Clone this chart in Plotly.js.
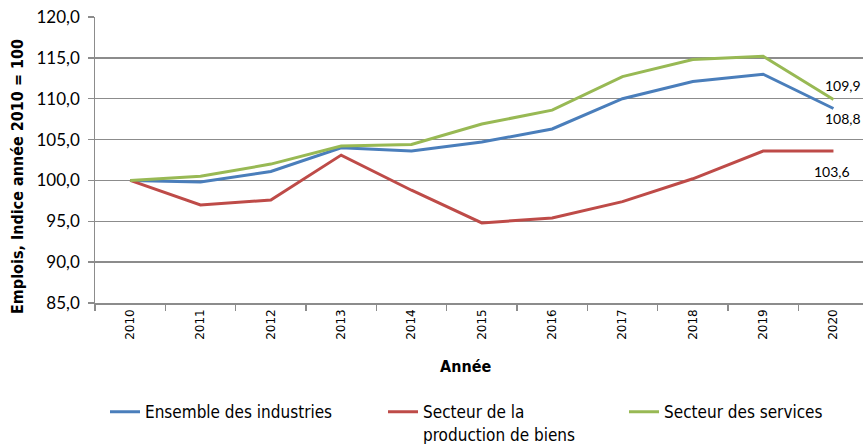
<!DOCTYPE html>
<html>
<head>
<meta charset="utf-8">
<script src="https://cdn.plot.ly/plotly-3.0.1.min.js"></script>
<style>html,body{margin:0;padding:0;background:#fff;}#chart{width:863px;height:444px;}</style>
</head>
<body>
<div id="chart"></div>
<script>
const years = ["2010","2011","2012","2013","2014","2015","2016","2017","2018","2019","2020"];
const ensemble = [100.0, 99.8, 101.1, 104.0, 103.6, 104.7, 106.3, 110.0, 112.1, 113.0, 108.8];
const biens    = [100.0, 97.0, 97.6, 103.1, 98.8, 94.8, 95.4, 97.4, 100.2, 103.6, 103.6];
const services = [100.0, 100.5, 102.0, 104.2, 104.4, 106.9, 108.6, 112.7, 114.8, 115.2, 109.9];
const names = ["Ensemble des industries", "Secteur de la<br>production de biens", "Secteur des services"];
const colors = ["#4A7EBB", "#BE4B48", "#98B954"];

const fmt = v => v.toFixed(1).replace(".", ",");
const last = years.length - 1;

const series = [ensemble, biens, services];
const legends = ["legend", "legend2", "legend3"];
const traces = series.map((s, i) => ({
  x: years, y: s, type: "scatter", mode: "lines", name: names[i],
  line: {color: colors[i], width: 3}, legend: legends[i], hoverinfo: "skip"
}));

const condensed = "Liberation Sans Narrow, DejaVu Sans Condensed, sans-serif";
const legFont = {family: condensed, size: 17, color: "#000"};
const legBase = {orientation: "h", yref: "container", yanchor: "top", xanchor: "left", y: 0.112, font: legFont, bgcolor: "rgba(0,0,0,0)", valign: "top", borderwidth: 0};

const labFont = {family: "Lato, sans-serif", size: 14, color: "#000"};
const annotations = [
  {x: last, y: services[last], text: fmt(services[last]), xanchor: "left", yanchor: "middle", xshift: -10, yshift: 14, showarrow: false, font: labFont},
  {x: last, y: ensemble[last], text: fmt(ensemble[last]), xanchor: "left", yanchor: "middle", xshift: -10, yshift: -10, showarrow: false, font: labFont},
  {x: last, y: biens[last], text: fmt(biens[last]), xanchor: "left", yanchor: "middle", xshift: -21, yshift: -20, showarrow: false, font: labFont},
  {xref: "paper", yref: "paper", x: (465 - 95) / 768, y: -(366 - 303) / 286, text: "<b>Année</b>", showarrow: false, xanchor: "center", yanchor: "middle",
   font: {family: condensed, size: 16, color: "#000"}},
  {xref: "paper", yref: "paper", x: (18 - 95) / 768, y: (303 - 177) / 286, text: "<b>Emplois, Indice année 2010 = 100</b>", textangle: -90,
   showarrow: false, xanchor: "center", yanchor: "middle", font: {family: condensed, size: 16, color: "#000"}}
];

const layout = {
  width: 863, height: 444,
  margin: {l: 95, r: 0, t: 17, b: 141, autoexpand: false},
  paper_bgcolor: "#fff", plot_bgcolor: "#fff",
  separators: ", ",
  showlegend: true,
  xaxis: {
    type: "category", range: [-0.5, 10.42], tickson: "boundaries", ticks: "outside", ticklen: 6, tickcolor: "#8c8c8c", tickwidth: 1.5,
    showline: true, linecolor: "#8c8c8c", linewidth: 1.5, showgrid: false, zeroline: false,
    tickangle: -90, tickfont: {family: "DejaVu Sans, sans-serif", size: 12, color: "#000"}
  },
  yaxis: {
    range: [85, 120], dtick: 5, tick0: 85, tickformat: ".1f", ticksuffix: "\u00a0", ticks: "outside", ticklen: 6, tickcolor: "#8c8c8c", tickwidth: 1.5,
    showline: true, linecolor: "#8c8c8c", linewidth: 1.5, showgrid: true, gridcolor: "#8c8c8c", gridwidth: 1.5, zeroline: false,
    tickfont: {family: "Lato, sans-serif", size: 17, color: "#000"}
  },
  legend:  Object.assign({}, legBase, {x: (105 - 95) / 768}),
  legend2: Object.assign({}, legBase, {x: (383 - 95) / 768}),
  legend3: Object.assign({}, legBase, {x: (624 - 95) / 768}),
  annotations: annotations
};

Plotly.newPlot("chart", traces, layout, {staticPlot: true, displayModeBar: false});
</script>
</body>
</html>
